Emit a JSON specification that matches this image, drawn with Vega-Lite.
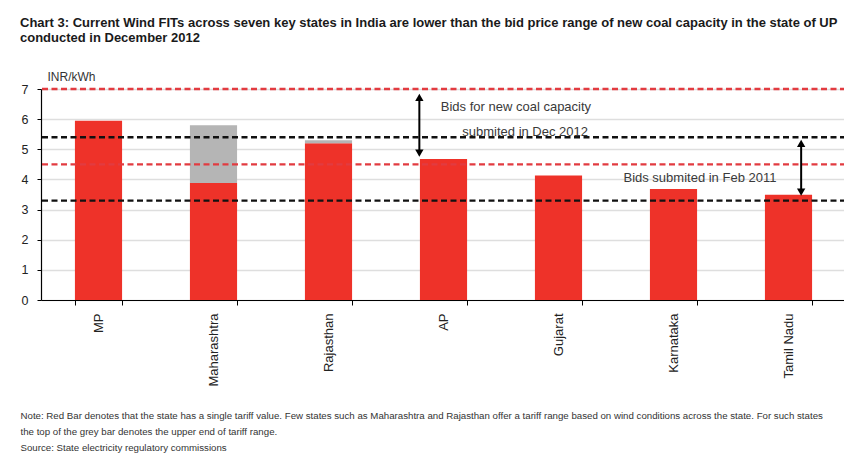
{
  "$schema": "https://vega.github.io/schema/vega-lite/v6.json",
  "autosize": "none",
  "width": 805,
  "height": 211,
  "padding": {"left": 41, "top": 89, "right": 0, "bottom": 153},
  "background": "white",
  "title": {
    "text": ["Chart 3: Current Wind FITs across seven key states in India are lower than the bid price range of new coal capacity in the state of UP", "conducted in December 2012"],
    "anchor": "start",
    "dx": 0,
    "font": "Liberation Sans",
    "fontSize": 13,
    "fontWeight": "bold",
    "color": "#1a1a1a",
    "offset": 25,
    "lineHeight": 15
  },
  "config": {
    "view": {"stroke": null},
    "font": "Liberation Sans",
    "axisY": {
      "titleAngle": 0, "titleAlign": "left", "titleX": 6, "titleY": -9,
      "titleBaseline": "alphabetic", "titleFontWeight": "normal", "titleFontSize": 12, "titleColor": "#333",
      "labelFontSize": 12.5, "labelColor": "#222", "labelPadding": 9,
      "tickSize": 4, "tickColor": "#000", "domainColor": "#000", "domainWidth": 1.2,
      "grid": true, "gridColor": "#dedede", "gridWidth": 1.5
    }
  },
  "datasets": {
    "bars": [
      {"state": "MP", "segment": "single", "start": 0, "end": 5.95},
      {"state": "Maharashtra", "segment": "single", "start": 0, "end": 3.88},
      {"state": "Maharashtra", "segment": "range", "start": 3.88, "end": 5.8},
      {"state": "Rajasthan", "segment": "single", "start": 0, "end": 5.2},
      {"state": "Rajasthan", "segment": "range", "start": 5.2, "end": 5.3},
      {"state": "AP", "segment": "single", "start": 0, "end": 4.68},
      {"state": "Gujarat", "segment": "single", "start": 0, "end": 4.13},
      {"state": "Karnataka", "segment": "single", "start": 0, "end": 3.68},
      {"state": "Tamil Nadu", "segment": "single", "start": 0, "end": 3.49}
    ],
    "lines": [
      {"kind": "Dec 2012 bids", "value": 7},
      {"kind": "Dec 2012 bids", "value": 4.5},
      {"kind": "Feb 2011 bids", "value": 5.4},
      {"kind": "Feb 2011 bids", "value": 3.3}
    ],
    "arrows": [
      {"x": 3.29, "top": 6.72, "bottom": 4.87},
      {"x": 6.61, "top": 5.2, "bottom": 3.58}
    ],
    "notes": [
      {"x": 4.13, "y": 6.4, "label": "Bids for new  coal capacity"},
      {"x": 4.21, "y": 5.57, "label": "submited in Dec 2012"},
      {"x": 5.73, "y": 4.05, "label": "Bids submited in Feb 2011"}
    ]
  },
  "layer": [
    {
      "data": {"name": "bars"},
      "mark": {"type": "bar"},
      "encoding": {
        "x": {
          "field": "state", "type": "nominal", "sort": null,
          "scale": {"paddingInner": 0.59, "paddingOuter": 0.295},
          "axis": {
            "title": ["Note: Red Bar denotes that the state has a single tariff value. Few states such as Maharashtra and Rajasthan offer a tariff range based on wind conditions across the state. For such states", "the top of the grey bar denotes the upper end of tariff range.", "Source:  State electricity regulatory commissions"],
            "labelAngle": -90, "labelAlign": "right", "labelBaseline": "middle",
            "labelFontSize": 13, "labelColor": "#222", "labelPadding": 8,
            "tickBand": "extent", "tickSize": 5, "tickColor": "#000", "domainColor": "#000", "domainWidth": 1.2,
            "titleX": -21, "titleY": 118, "titleAlign": "left", "titleAnchor": "start", "titleAngle": 0,
            "titleBaseline": "alphabetic", "titleFontSize": 9.7, "titleFont": "Liberation Sans",
            "titleFontWeight": "normal", "titleColor": "#333", "titleLineHeight": 16
          }
        },
        "y": {
          "field": "start", "type": "quantitative",
          "scale": {"domain": [0, 7], "nice": false, "zero": true},
          "axis": {"title": "INR/kWh", "values": [0, 1, 2, 3, 4, 5, 6, 7], "labelOverlap": false, "labelBound": false, "tickCount": 8}
        },
        "y2": {"field": "end"},
        "color": {
          "field": "segment", "type": "nominal",
          "scale": {"domain": ["single", "range", "Dec 2012 bids", "Feb 2011 bids"], "range": ["#ee3229", "#b5b5b5", "#e23b40", "#111111"]},
          "legend": null
        }
      }
    },
    {
      "data": {"name": "lines"},
      "mark": {"type": "rule", "strokeDash": [6, 3.5], "strokeWidth": 2.3},
      "encoding": {
        "y": {"field": "value", "type": "quantitative", "axis": {"title": "INR/kWh", "values": [0, 1, 2, 3, 4, 5, 6, 7], "labelOverlap": false, "labelBound": false, "tickCount": 8}},
        "color": {"field": "kind", "type": "nominal", "legend": null}
      }
    },
    {
      "data": {"name": "arrows"},
      "mark": {"type": "rule", "color": "#000", "strokeWidth": 2},
      "encoding": {
        "x": {"field": "x", "type": "quantitative", "scale": {"domain": [0, 7], "nice": false}, "axis": null},
        "y": {"field": "top", "type": "quantitative", "axis": {"title": "INR/kWh", "values": [0, 1, 2, 3, 4, 5, 6, 7], "labelOverlap": false, "labelBound": false, "tickCount": 8}},
        "y2": {"field": "bottom"}
      }
    },
    {
      "data": {"name": "arrows"},
      "transform": [{"fold": ["top", "bottom"], "as": ["end", "pos"]}],
      "mark": {"type": "point", "filled": true, "color": "#000", "opacity": 1, "size": 70},
      "encoding": {
        "x": {"field": "x", "type": "quantitative", "scale": {"domain": [0, 7], "nice": false}, "axis": null},
        "y": {"field": "pos", "type": "quantitative", "axis": {"title": "INR/kWh", "values": [0, 1, 2, 3, 4, 5, 6, 7], "labelOverlap": false, "labelBound": false, "tickCount": 8}},
        "shape": {"field": "end", "type": "nominal", "scale": {"domain": ["top", "bottom"], "range": ["triangle-up", "triangle-down"]}, "legend": null}
      }
    },
    {
      "data": {"name": "notes"},
      "mark": {"type": "text", "fontSize": 13, "color": "#3a3a3a", "align": "center", "baseline": "middle"},
      "encoding": {
        "x": {"field": "x", "type": "quantitative", "scale": {"domain": [0, 7], "nice": false}, "axis": null},
        "y": {"field": "y", "type": "quantitative", "axis": {"title": "INR/kWh", "values": [0, 1, 2, 3, 4, 5, 6, 7], "labelOverlap": false, "labelBound": false, "tickCount": 8}},
        "text": {"field": "label"}
      }
    }
  ],
  "resolve": {"scale": {"x": "independent"}}
}
